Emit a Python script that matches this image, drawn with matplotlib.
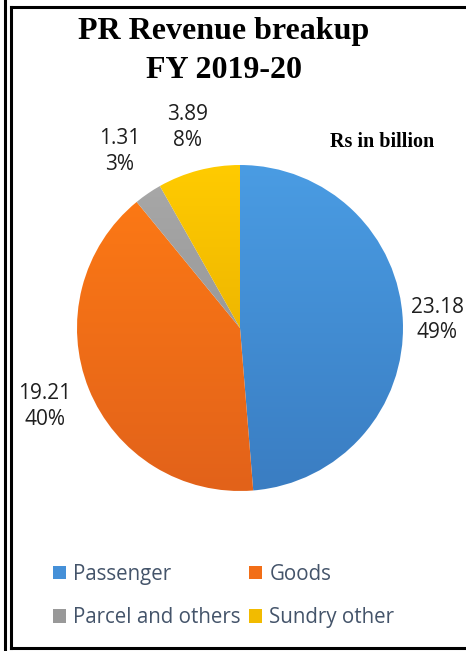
import matplotlib.pyplot as plt
import matplotlib.colors as mcolors
import numpy as np
from matplotlib.lines import Line2D
from matplotlib.patches import Patch

categories = ['Passenger', 'Goods', 'Parcel and others', 'Sundry other']
values = [23.18, 19.21, 1.31, 3.89]
percents = ['49%', '40%', '3%', '8%']
top_colors = ['#4A9CE3', '#FF7B14', '#A9A9A9', '#FFCB00']
bottom_colors = ['#3A7DC2', '#E2621A', '#8A8A8A', '#DFA300']
legend_colors = ['#4590D8', '#F26E17', '#999999', '#F2BB00']
label_dist = [1.21, 1.29, 1.31, 1.27]

W, H = 466, 651
fig = plt.figure(figsize=(W / 100, H / 100), dpi=100)
fig.patch.set_facecolor('white')

# pie: centre at (240, 328) px from top-left, radius 163 px
cx, cy, R = 240, 328, 163
ax = fig.add_axes([0, 0, 1, 1])

wedges, _ = ax.pie(values, startangle=90, counterclock=False,
                   colors=top_colors, wedgeprops=dict(linewidth=0))
ax.set_aspect('auto')

# data labels
for w, v, p, d in zip(wedges, values, percents, label_dist):
    ang = np.deg2rad((w.theta1 + w.theta2) / 2)
    ax.text(d * np.cos(ang), d * np.sin(ang), f'{v:.2f}\n{p}', ha='center', va='center',
            fontsize=15, family='Open Sans', color='#1F1F1F', linespacing=1.3)

# vertical gradient fill in each wedge
t = np.linspace(0, 1, 256)[:, None]
for w, c1, c2 in zip(wedges, top_colors, bottom_colors):
    a = np.array(mcolors.to_rgb(c1))
    b = np.array(mcolors.to_rgb(c2))
    grad = (a[None, :] * (1 - t) + b[None, :] * t)[:, None, :]
    im = ax.imshow(grad, extent=(-1, 1, -1, 1), origin='upper', aspect='auto', zorder=w.get_zorder())
    im.set_clip_path(w)
    w.set_alpha(0)
ax.set_xlim(-cx / R, (W - cx) / R)
ax.set_ylim(-(H - cy) / R, cy / R)
ax.axis('off')

# titles
fig.text(224 / W, 1 - 32 / H, 'PR Revenue breakup', ha='center', va='center',
         fontsize=23, fontweight='bold', family='Liberation Serif')
fig.text(224 / W, 1 - 70 / H, 'FY 2019-20', ha='center', va='center',
         fontsize=23, fontweight='bold', family='Liberation Serif')
fig.text(382 / W, 1 - 142 / H, 'Rs in billion', ha='center', va='center',
         fontsize=14.5, fontweight='bold', family='Liberation Serif')

# legend (row-wise order)
order = [0, 2, 1, 3]
handles = [Patch(facecolor=legend_colors[i], edgecolor='none') for i in order]
leg = fig.legend(handles, [categories[i] for i in order], ncol=2, loc='upper left',
                 bbox_to_anchor=(53 / W, 1 - 564 / H), frameon=False, borderpad=0,
                 borderaxespad=0, prop=dict(family='Open Sans', size=14.8),
                 handlelength=0.63, handleheight=0.63, handletextpad=0.34,
                 columnspacing=0.44, labelspacing=1.09)
for txt in leg.get_texts():
    txt.set_color('#44546A')

# double frame
lw = 2.2
tf = fig.transFigure
fig.add_artist(Line2D([4.5 / W, 4.5 / W], [0, 1], color='black', lw=lw, transform=tf))
fig.add_artist(Line2D([10.5 / W, 10.5 / W], [1 - 7 / H, 1 - 647.5 / H], color='black', lw=lw,
                      transform=tf, solid_capstyle='projecting'))
fig.add_artist(Line2D([10.5 / W, 1], [1 - 7 / H, 1 - 7 / H], color='black', lw=lw,
                      transform=tf, solid_capstyle='projecting'))
fig.add_artist(Line2D([10.5 / W, 1], [1 - 647.5 / H, 1 - 647.5 / H], color='black', lw=lw,
                      transform=tf, solid_capstyle='projecting'))

fig.savefig('out.png', dpi=100)
